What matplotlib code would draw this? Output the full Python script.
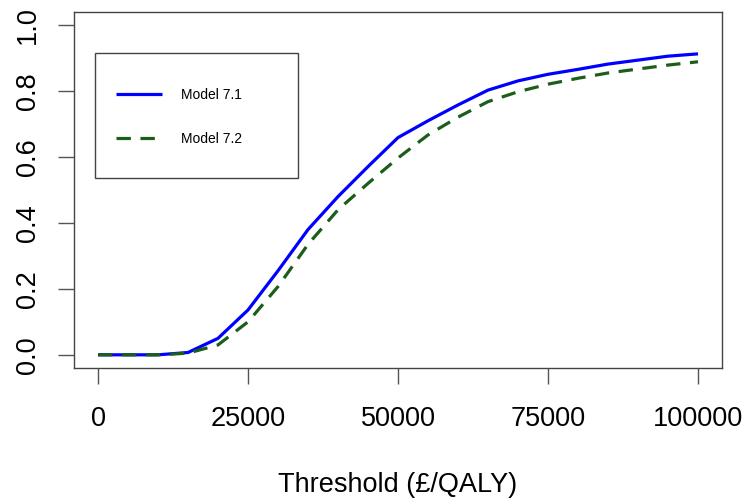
import matplotlib.pyplot as plt
from matplotlib.patches import Rectangle

plt.rcParams['font.family'] = ['Liberation Sans', 'DejaVu Sans']

thresholds = [0, 5000, 10000, 15000, 20000, 25000, 30000, 35000, 40000, 45000, 50000,
              55000, 60000, 65000, 70000, 75000, 80000, 85000, 90000, 95000, 100000]
model_71 = [0.0, 0.0, 0.0, 0.007, 0.05, 0.136, 0.255, 0.38, 0.48, 0.571, 0.659,
            0.71, 0.758, 0.803, 0.831, 0.851, 0.866, 0.882, 0.894, 0.906, 0.913]
model_72 = [0.0, 0.0, 0.0, 0.005, 0.03, 0.10, 0.207, 0.335, 0.44, 0.52, 0.597,
            0.667, 0.721, 0.768, 0.798, 0.821, 0.839, 0.855, 0.867, 0.879, 0.889]
xticks = [0, 25000, 50000, 75000, 100000]
yticks = [0.0, 0.2, 0.4, 0.6, 0.8, 1.0]

fig = plt.figure(figsize=(7.49, 5.04), dpi=100)
ax = fig.add_axes([74 / 749, 1 - 368 / 504, 648 / 749, 356 / 504])

ax.plot(thresholds, model_71, color='#0000ff', lw=2.3, label='Model 7.1',
        solid_capstyle='butt')
ax.plot(thresholds, model_72, color='#1b5e1b', lw=2.3, ls=(0, (4.5, 3)),
        label='Model 7.2', dash_capstyle='butt')

ax.set_xlim(-4000, 104000)
ax.set_ylim(-0.04, 1.04)
ax.set_xticks(xticks)
ax.set_xticklabels([str(t) for t in xticks], fontsize=19.5)
ax.set_yticks(yticks)
ax.set_yticklabels(['%.1f' % t for t in yticks], fontsize=19.5, rotation=90,
                   va='center')
ax.tick_params(direction='out', length=11.5, width=1, color='#555555')
ax.tick_params(axis='x', pad=16)
ax.tick_params(axis='y', pad=12)
for sp in ax.spines.values():
    sp.set_color('#444444')
    sp.set_linewidth(1)

ax.set_xlabel('Threshold (£/QALY)', fontsize=19.5, labelpad=29)

# legend box drawn separately so its padding matches the reference
ax.add_patch(Rectangle((21 / 648, 1 - 166 / 356), 203 / 648, 125 / 356,
                       transform=ax.transAxes, fill=False, ec='#444444',
                       lw=1, zorder=5))
leg = ax.legend(loc='upper left', bbox_to_anchor=(42 / 648, 1 - 76 / 356),
                fontsize=10, frameon=False, handlelength=3.3,
                handletextpad=1.35, borderpad=0, labelspacing=2.15,
                borderaxespad=0)

fig.savefig('out.png', dpi=100)
